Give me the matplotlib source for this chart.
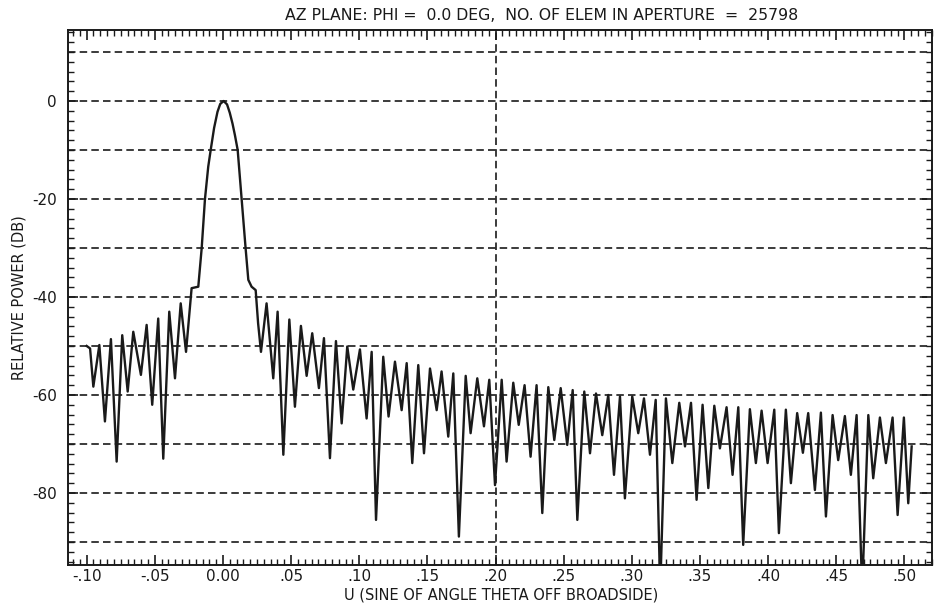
import matplotlib
matplotlib.use('Agg')
import matplotlib.pyplot as plt
from matplotlib.ticker import MultipleLocator, FixedLocator, FixedFormatter

# pattern trace: u (sine of angle) and relative power (dB)
u_vals = [
    -0.1000, -0.0975, -0.0951, -0.0907, -0.0866, -0.0822, -0.0780, -0.0739,
    -0.0699, -0.0658, -0.0602, -0.0560, -0.0519, -0.0475, -0.0438, -0.0394,
    -0.0352, -0.0310, -0.0271, -0.0230, -0.0181, -0.0156, -0.0132, -0.0108,
    -0.0090, -0.0065, -0.0040, -0.0020, 0.0005, 0.0030, 0.0050, 0.0070,
    0.0088, 0.0108, 0.0137, 0.0166, 0.0186, 0.0210, 0.0240, 0.0258,
    0.0279, 0.0320, 0.0369, 0.0401, 0.0443, 0.0487, 0.0528, 0.0572,
    0.0614, 0.0655, 0.0704, 0.0741, 0.0785, 0.0829, 0.0871, 0.0912,
    0.0956, 0.1005, 0.1054, 0.1091, 0.1123, 0.1176, 0.1215, 0.1262,
    0.1311, 0.1348, 0.1389, 0.1433, 0.1475, 0.1519, 0.1568, 0.1604,
    0.1653, 0.1690, 0.1731, 0.1781, 0.1817, 0.1866, 0.1915, 0.1954,
    0.1996, 0.2045, 0.2081, 0.2130, 0.2170, 0.2213, 0.2257, 0.2301,
    0.2343, 0.2387, 0.2431, 0.2478, 0.2526, 0.2566, 0.2600, 0.2651,
    0.2693, 0.2737, 0.2783, 0.2827, 0.2869, 0.2913, 0.2949, 0.3003,
    0.3047, 0.3089, 0.3133, 0.3175, 0.3208, 0.3250, 0.3297, 0.3348,
    0.3390, 0.3434, 0.3475, 0.3519, 0.3561, 0.3605, 0.3646, 0.3695,
    0.3739, 0.3781, 0.3817, 0.3866, 0.3910, 0.3952, 0.3996, 0.4045,
    0.4079, 0.4130, 0.4167, 0.4213, 0.4255, 0.4294, 0.4343, 0.4387,
    0.4424, 0.4473, 0.4514, 0.4563, 0.4607, 0.4649, 0.4690, 0.4735,
    0.4771, 0.4820, 0.4864, 0.4913, 0.4950, 0.4996, 0.5028, 0.5053,
]
db_vals = [
    -50.0, -50.5, -58.3, -49.8, -65.4, -48.6, -73.6, -47.8,
    -59.3, -47.1, -55.9, -45.7, -62.0, -44.4, -73.0, -43.0,
    -56.6, -41.3, -51.2, -38.2, -37.9, -30.0, -20.0, -13.4,
    -10.0, -5.5, -2.2, -0.6, 0.0, -0.7, -2.4, -4.6,
    -7.0, -10.0, -20.0, -30.0, -36.5, -37.9, -38.6, -45.4,
    -51.2, -41.3, -56.6, -43.0, -72.2, -44.6, -62.4, -45.9,
    -56.1, -47.4, -58.6, -48.4, -72.9, -49.0, -65.8, -50.1,
    -58.9, -50.7, -64.8, -51.2, -85.5, -52.2, -64.4, -53.2,
    -63.1, -53.5, -73.9, -53.9, -71.9, -54.6, -63.1, -55.2,
    -68.5, -55.6, -88.9, -56.1, -67.8, -56.6, -66.4, -56.9,
    -78.4, -56.9, -73.6, -57.5, -66.1, -58.0, -72.6, -58.0,
    -84.1, -58.4, -69.2, -58.6, -70.2, -59.0, -85.5, -59.3,
    -71.9, -59.7, -68.2, -60.0, -76.3, -60.3, -81.1, -60.3,
    -67.8, -60.7, -72.2, -61.0, -100.0, -60.7, -73.9, -61.6,
    -70.5, -61.6, -81.4, -62.0, -79.0, -62.2, -70.9, -62.5,
    -76.3, -62.5, -90.6, -62.9, -73.9, -63.2, -73.9, -63.0,
    -88.2, -63.0, -78.0, -63.7, -71.8, -63.7, -79.4, -63.6,
    -84.8, -64.1, -73.3, -64.3, -76.3, -64.1, -100.0, -64.1,
    -77.0, -64.6, -73.9, -64.6, -84.5, -64.6, -82.1, -70.5,
]

x_ticks = [-0.10, -0.05, 0.00, 0.05, 0.10, 0.15, 0.20, 0.25, 0.30, 0.35, 0.40, 0.45, 0.50]
x_labels = ['-.10', '-.05', '0.00', '.05', '.10', '.15', '.20', '.25', '.30', '.35', '.40', '.45', '.50']
y_ticks = [0, -20, -40, -60, -80]
y_labels = ['0', '-20', '-40', '-60', '-80']
grid_db = [10, 0, -10, -20, -30, -40, -50, -60, -70, -80, -90]
grid_u = [0.20]

title = 'AZ PLANE: PHI =  0.0 DEG,  NO. OF ELEM IN APERTURE  =  25798'
x_title = 'U (SINE OF ANGLE THETA OFF BROADSIDE)'
y_title = 'RELATIVE POWER (DB)'

ink = '#1a1a1a'

fig = plt.figure(figsize=(9.43, 6.04), dpi=100)
ax = fig.add_axes([0.0721, 0.0646, 0.9162, 0.8858])

for g in grid_db:
    ax.axhline(g, color=ink, linewidth=1.2, linestyle=(0, (4.5, 2.5)), zorder=1)
for g in grid_u:
    ax.axvline(g, color=ink, linewidth=1.2, linestyle=(0, (4.5, 2.5)), zorder=1)

ax.plot(u_vals, db_vals, color=ink, linewidth=1.7, solid_joinstyle='round', zorder=3)

ax.set_xlim(-0.1137, 0.5202)
ax.set_ylim(-94.7, 14.5)

ax.xaxis.set_major_locator(FixedLocator(x_ticks))
ax.xaxis.set_major_formatter(FixedFormatter(x_labels))
ax.xaxis.set_minor_locator(MultipleLocator(0.005))
ax.yaxis.set_major_locator(FixedLocator(y_ticks))
ax.yaxis.set_major_formatter(FixedFormatter(y_labels))
ax.yaxis.set_minor_locator(MultipleLocator(2))

ax.tick_params(which='both', direction='in', top=True, right=True, colors=ink)
ax.tick_params(which='major', length=7, width=1.2)
ax.tick_params(which='minor', length=4, width=1.0)
ax.tick_params(axis='x', pad=3, labelsize=11)
ax.tick_params(axis='y', pad=8, labelsize=11)
for s in ax.spines.values():
    s.set_linewidth(1.4)
    s.set_color(ink)

fig.text(0.574, 0.975, title, fontsize=11.3, color=ink, ha='center', va='center')
fig.text(0.531, 0.015, x_title, fontsize=10.5, color=ink, ha='center', va='center')
ax.set_ylabel(y_title, fontsize=10.5, color=ink, labelpad=4)

fig.savefig('out.png', dpi=100)
